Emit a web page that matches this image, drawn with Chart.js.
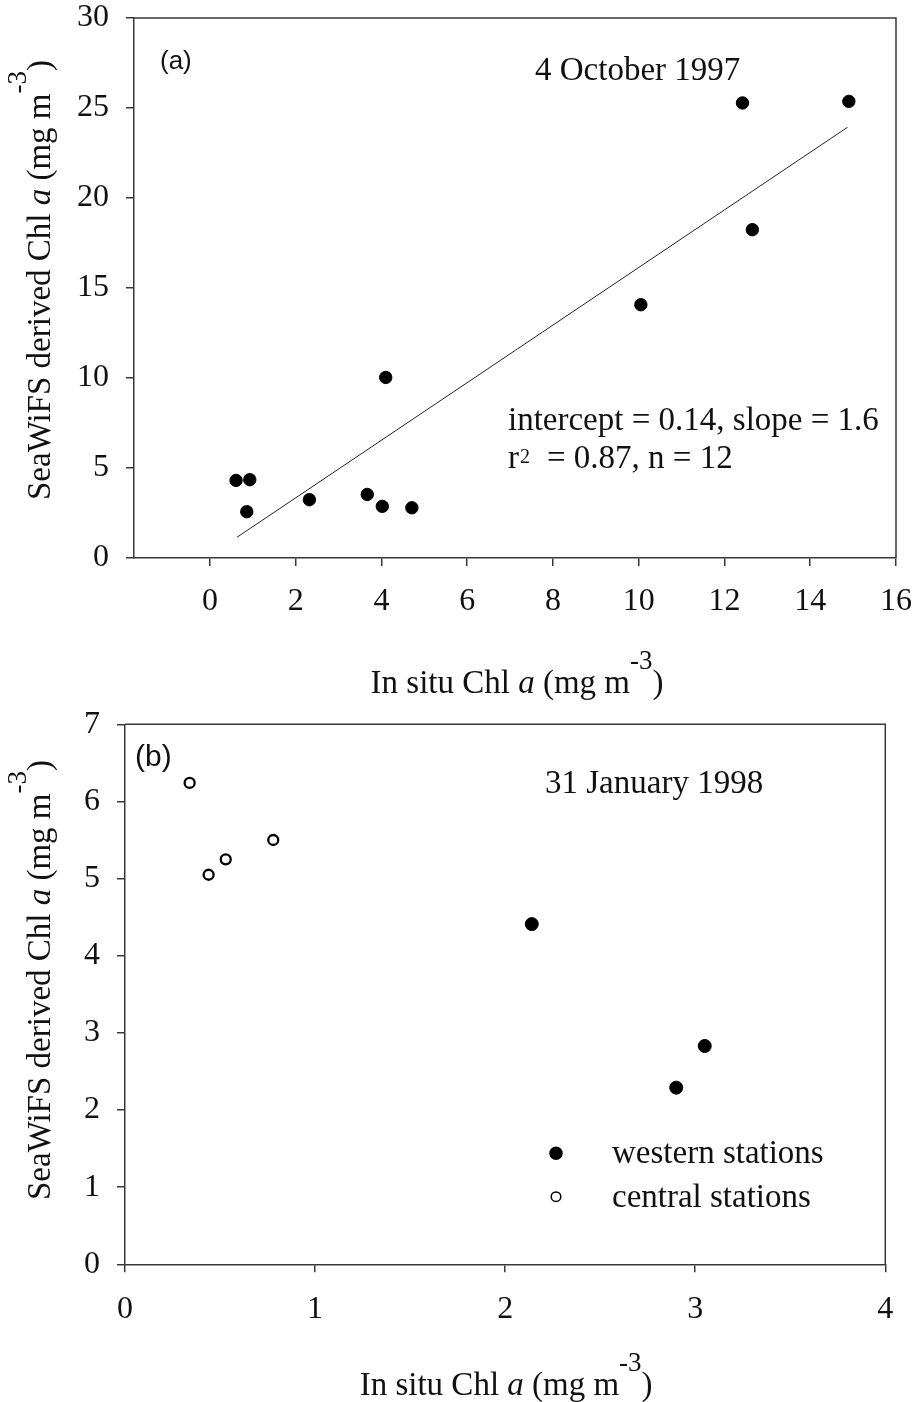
<!DOCTYPE html>
<html><head><meta charset="utf-8">
<script src="https://cdn.jsdelivr.net/npm/chart.js@4.4.0/dist/chart.umd.min.js"></script>
<style>
html,body{margin:0;padding:0;background:#fff;}
#wrap{position:relative;width:915px;height:1402px;background:#fff;}
canvas{position:absolute;left:0;}
#c1{top:0;} #c2{top:700px;}
</style></head><body>
<div id="wrap"><canvas id="c1" width="915" height="700"></canvas><canvas id="c2" width="915" height="702"></canvas></div>
<script>
// ---- Panel (a): 4 October 1997 ----
const aInSitu   = [0.61, 0.93, 0.86, 2.32, 3.67, 4.02, 4.10, 4.71, 10.05, 12.42, 12.65, 14.90];
const aSeaWiFS  = [4.31, 4.35, 2.57, 3.24, 3.53, 2.87, 10.03, 2.79, 14.07, 25.28, 18.24, 25.37];
const aFitX     = [0.63, 14.87];
const aFitY     = [1.15, 23.93];
const aXTicks   = [0, 2, 4, 6, 8, 10, 12, 14, 16];
const aYTicks   = [0, 5, 10, 15, 20, 25, 30];
// ---- Panel (b): 31 January 1998 ----
const bWesternX = [2.14, 2.90, 3.05];
const bWesternY = [4.41, 2.29, 2.83];
const bCentralX = [0.34, 0.44, 0.53, 0.78];
const bCentralY = [6.24, 5.05, 5.25, 5.50];
const bXTicks   = [0, 1, 2, 3, 4];
const bYTicks   = [0, 1, 2, 3, 4, 5, 6, 7];

const SERIF = '"Liberation Serif","Times New Roman",Times,serif';
const SANS  = '"Liberation Sans",Arial,Helvetica,sans-serif';
const INK = '#111111';
const AXIS = '#383838';

function pts(xs, ys){ return xs.map((x,i)=>({x:x, y:ys[i]})); }

function axis(min, max, ticks, isX, fitSize, pad){
  return {
    type:'linear', min:min, max:max,
    afterBuildTicks: s => { s.ticks = ticks.map(v=>({value:v})); },
    afterFit: s => {
      if (isX) s.height = fitSize; else s.width = fitSize;
      s.paddingLeft = 0; s.paddingRight = 0; s.paddingTop = 0; s.paddingBottom = 0;
    },
    grid:{drawOnChartArea:false, drawTicks:true, tickLength:8, color:AXIS, lineWidth:1.5},
    border:{display:true, color:AXIS, width:1.5},
    ticks:{color:INK, font:{family:SERIF, size:32, lineHeight:1}, padding:pad, maxRotation:0, autoSkip:false}
  };
}

function drawParts(ctx, parts, x, y, align){
  let w = 0;
  parts.forEach(p => { ctx.font = p.f; w += ctx.measureText(p.t).width; });
  let cx = align === 'center' ? x - w/2 : x;
  ctx.textAlign = 'left'; ctx.textBaseline = 'alphabetic';
  parts.forEach(p => { ctx.font = p.f; ctx.fillText(p.t, cx, y + (p.dy||0)); cx += ctx.measureText(p.t).width; });
}

const F = (s, st) => (st ? st + ' ' : '') + s + 'px ' + SERIF;
function titleParts(prefix){
  return [
    {t: prefix + 'Chl ', f: F(33)},
    {t: 'a', f: F(33, 'italic')},
    {t: ' (mg m', f: F(33)},
    {t: '-3', f: F(27), dy: -24},
    {t: ')', f: F(33)}
  ];
}

function panelPlugin(cfg){
  return {
    id: 'panel' + cfg.tag,
    afterDraw(chart){
      const ctx = chart.ctx, a = chart.chartArea;
      ctx.save();
      // frame (top & right)
      ctx.strokeStyle = AXIS; ctx.lineWidth = 1.5;
      ctx.beginPath(); ctx.moveTo(a.left, a.top); ctx.lineTo(a.right, a.top); ctx.lineTo(a.right, a.bottom); ctx.stroke();
      ctx.fillStyle = INK;
      // axis titles
      drawParts(ctx, titleParts('In situ '), (a.left + a.right)/2 + cfg.xTitleDx, cfg.xTitleY, 'center');
      ctx.save(); ctx.translate(cfg.yTitleX, cfg.yTitleY); ctx.rotate(-Math.PI/2);
      drawParts(ctx, titleParts('SeaWiFS derived '), 0, 0, 'center');
      ctx.restore();
      // panel tag
      ctx.font = cfg.tagSize + 'px ' + SANS; ctx.textBaseline = 'middle'; ctx.textAlign = 'left';
      ctx.fillText('(' + cfg.tag + ')', cfg.tagX, cfg.tagY);
      // date
      ctx.font = F(33); ctx.textBaseline = 'alphabetic';
      ctx.fillText(cfg.date, cfg.dateX, cfg.dateY);
      if (cfg.extra) cfg.extra(chart, ctx);
      ctx.restore();
    }
  };
}

// ---------- Chart (a) ----------
new Chart(document.getElementById('c1'), {
  type: 'scatter',
  data: { datasets: [
    { label:'stations', data: pts(aInSitu, aSeaWiFS), pointRadius:6.2, pointHoverRadius:6.2,
      backgroundColor:'#000', borderColor:'#000', borderWidth:1 },
    { label:'fit', data: pts(aFitX, aFitY), showLine:true, pointRadius:0, pointHoverRadius:0,
      borderColor:'#222', borderWidth:1, fill:false }
  ]},
  options: {
    responsive:false, animation:false, events:[],
    layout:{padding:{left:0, right:19, top:18, bottom:0}},
    scales:{
      x: axis(-1.77, 16, aXTicks, true, 142, 20),
      y: axis(0, 30, aYTicks, false, 134, 17)
    },
    plugins:{legend:{display:false}, tooltip:{enabled:false}}
  },
  plugins:[panelPlugin({tag:'a', tagSize:26, tagX:160, tagY:62, date:'4 October 1997', dateX:535, dateY:80,
    xTitleDx:2, xTitleY:693, yTitleX:50, yTitleY:280,
    extra:(chart, ctx) => {
      ctx.font = F(33);
      ctx.fillText('intercept = 0.14, slope = 1.6', 508, 430);
      ctx.fillText('r', 508, 468);
      ctx.font = F(20); ctx.fillText('2', 520, 463);
      ctx.font = F(33); ctx.fillText('= 0.87, n = 12', 547, 468);
    }})]
});

// ---------- Chart (b) ----------
new Chart(document.getElementById('c2'), {
  type: 'scatter',
  data: { datasets: [
    { label:'western stations', data: pts(bWesternX, bWesternY), pointRadius:6.5, pointHoverRadius:6.5,
      backgroundColor:'#000', borderColor:'#000', borderWidth:1 },
    { label:'central stations', data: pts(bCentralX, bCentralY), pointRadius:5, pointHoverRadius:5,
      backgroundColor:'#fff', borderColor:'#000', borderWidth:2.3 }
  ]},
  options: {
    responsive:false, animation:false, events:[],
    layout:{padding:{left:0, right:29.7, top:24.3, bottom:0}},
    scales:{
      x: axis(0, 4, bXTicks, true, 137.7, 21),
      y: axis(0, 7, bYTicks, false, 125, 17)
    },
    plugins:{legend:{display:false}, tooltip:{enabled:false}}
  },
  plugins:[panelPlugin({tag:'b', tagSize:30, tagX:135, tagY:58, date:'31 January 1998', dateX:545, dateY:93,
    xTitleDx:1, xTitleY:695, yTitleX:50, yTitleY:280,
    extra:(chart, ctx) => {
      const rows = [[453.3, 463.3], [496.7, 506.7]];
      chart.data.datasets.forEach((ds, i) => {
        ctx.fillStyle = ds.backgroundColor; ctx.strokeStyle = ds.borderColor;
        Chart.helpers.drawPoint(ctx, {pointStyle:'circle', radius: i === 0 ? 6 : 4.8, borderWidth: ds.borderWidth, rotation:0}, 556, rows[i][0]);
        ctx.fillStyle = INK; ctx.font = F(33); ctx.textBaseline = 'alphabetic';
        ctx.fillText(ds.label, 612, rows[i][1]);
      });
    }})]
});
</script>
</body></html>
